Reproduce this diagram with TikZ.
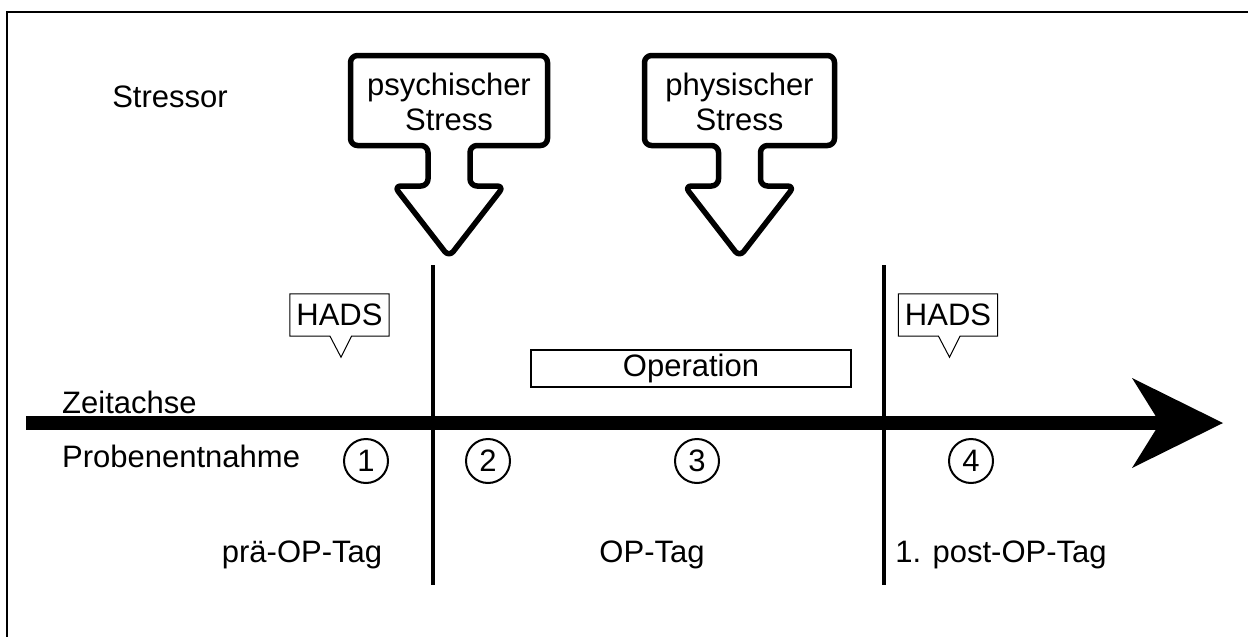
\documentclass[tikz,border=0pt]{standalone}
\usepackage{fontspec}
\setmainfont{Liberation Sans}
\usetikzlibrary{calc,positioning}

\begin{document}
\begin{tikzpicture}[
                x=1pt,y=-1pt,
                every node/.append style={font=\fontsize{31}{35}\selectfont,inner sep=0pt},
                stressarrow/.style={line width=5.5pt,rounded corners=7pt,line join=round},
                callout/.style={line width=1pt},
                numcirc/.style={circle,draw,line width=2pt,minimum size=44pt},
                daysep/.style={line width=3.5pt},
                opbox/.style={draw,line width=2pt,minimum width=320pt,minimum height=37pt}
            ]
                \clip (0,0) rectangle (1248,637);
                \draw[line width=1.5pt] (7,12) rectangle (1270,660);

                \node (stressor) at (170,97) {Stressor};
                \foreach \cx/\hw/\nm/\txt in {449/98.5/psy/psychischer, 739.5/95/phy/physischer}{
                    \draw[stressarrow] (\cx-\hw,55.5) -- (\cx+\hw,55.5) -- (\cx+\hw,145.5)
                        -- (\cx+21,145.5) -- (\cx+21,186) -- (\cx+55,186) -- (\cx,257)
                        -- (\cx-55,186) -- (\cx-21,186) -- (\cx-21,145.5) -- (\cx-\hw,145.5) -- cycle;
                    \node[align=center] (\nm) at (\cx,102) {\txt\\Stress};
                }

                \coordinate (cut1top) at (433,265);
                \coordinate (cut1bot) at (433,585);
                \coordinate (cut2top) at (884,265);
                \coordinate (cut2bot) at (884,585);
                \draw[daysep] (cut1top) -- (cut1bot);
                \draw[daysep] (cut2top) -- (cut2bot);

                \coordinate (axstart) at (26,423);
                \coordinate (axtip)   at (1223,423);
                \draw[line width=14pt] (axstart) -- ($(axtip)+(-63,0)$);
                \fill (axtip) -- ++(-91,-45) -- ++(28,45) -- ++(-28,45) -- cycle;

                \node[anchor=base west] (zeit)   at (62,413) {Zeitachse};
                \node[anchor=base west] (proben) at (62,467) {Probenentnahme};

                \foreach \n/\x in {1/366,2/488,3/697,4/971}
                    \node[numcirc] (s\n) at (\x,461) {\n};

                \foreach \nm/\x in {hads1/339.5,hads2/948}{
                    \node[minimum width=99pt,minimum height=42pt] (\nm) at (\x,315) {HADS};
                    \draw[callout] (\nm.south west) -- (\nm.north west) -- (\nm.north east)
                        -- (\nm.south east) -- ($(\nm.south)+(12,0)$) -- ($(\nm.south)+(1.5,21)$)
                        -- ($(\nm.south)+(-9.5,0)$) -- cycle;
                }

                \node[opbox] (op) at (691,368.5) {Operation};

                \node[anchor=base] (preday)  at (302,562)  {prä-OP-Tag};
                \node[anchor=base] (opday)   at (652,562)  {OP-Tag};
                \node[anchor=base] (postday) at (1001,562) {1. post-OP-Tag};
            \end{tikzpicture}
\end{document}
